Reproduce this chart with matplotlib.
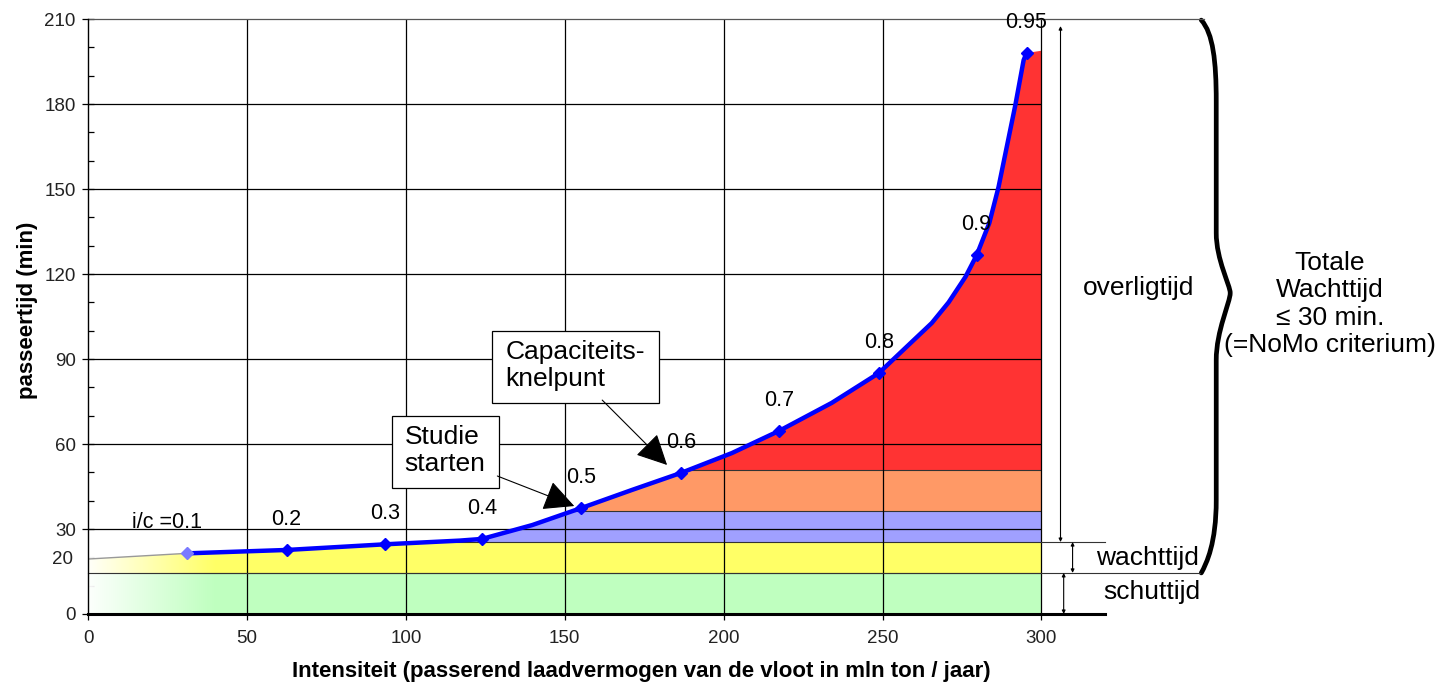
import numpy as np
import matplotlib
matplotlib.use("Agg")
import matplotlib.pyplot as plt
from matplotlib.patches import Polygon, Rectangle, PathPatch
from matplotlib.path import Path
from matplotlib.ticker import FixedLocator, FixedFormatter

plt.rcParams['font.family'] = ['Liberation Sans', 'DejaVu Sans']

# ---------------- data ----------------
curve_x = [0, 31, 62.5, 93.5, 116.9, 124, 139.8, 155.2, 171.2, 186.6, 202.6, 217.4,
           234, 248.8, 265.5, 270.8, 276.1, 279.6, 283.6, 286.5, 291.8, 294.4, 295.3]
curve_y = [19.4, 21.4, 22.6, 24.6, 25.9, 26.5, 31.4, 37.4, 43.8, 49.8, 56.8, 64.6,
           74.5, 85.0, 102.7, 110.0, 119.0, 126.6, 138.0, 150.7, 179.7, 195.5, 198.0]
fill_end_x = 300
fill_end_y = 198.8

ic_labels = ['i/c =0.1', '0.2', '0.3', '0.4', '0.5', '0.6', '0.7', '0.8', '0.9', '0.95']
ic_x = [31, 62.5, 93.5, 124, 155.2, 186.6, 217.4, 248.8, 279.6, 295.3]
ic_y = [21.4, 22.6, 24.6, 26.5, 37.4, 49.8, 64.6, 85.0, 126.6, 198.0]

band_edges = [0, 14.5, 25.4, 36.4, 50.8, 210]
band_colors = ['#bfffbf', '#ffff66', '#a0a0ff', '#ff9966', '#ff3333']

x_ticks = [0, 50, 100, 150, 200, 250, 300]
y_ticks = [0, 30, 60, 90, 120, 150, 180, 210]
y_minor = [10, 20, 40, 50, 70, 80, 100, 110, 130, 140, 160, 170, 190, 200]

# ---------------- figure ----------------
fig = plt.figure(figsize=(14.49, 6.87), dpi=100)
ax = fig.add_axes([88/1449, 1-614/687, (1105-88)/1449, (614-19)/687])
ax.set_xlim(0, 320)
ax.set_ylim(0, 210)

# clip polygon under curve
verts = [(0, 0)] + list(zip(curve_x, curve_y)) + [(fill_end_x, fill_end_y), (fill_end_x, 0)]
clip_poly = Polygon(verts, closed=True, transform=ax.transData, facecolor='none', edgecolor='none')
ax.add_patch(clip_poly)

for lo, hi, c in zip(band_edges[:-1], band_edges[1:], band_colors):
    fb = ax.fill_between([0, fill_end_x], lo, hi, color=c, lw=0, zorder=1)
    fb.set_clip_path(clip_poly)

# band edge lines (clipped)
for yv in band_edges[1:-1]:
    ln, = ax.plot([0, fill_end_x], [yv, yv], color='#333333', lw=0.8, zorder=1.5)
    ln.set_clip_path(clip_poly)

# left white fade
grad = np.zeros((2, 256, 4))
grad[..., :3] = 1.0
grad[..., 3] = np.linspace(0.97, 0.0, 256)[None, :]
ax.imshow(grad, extent=[0, 40, 0, 23.5], aspect='auto', zorder=2.5, interpolation='bilinear')

# grid lines
ax.hlines(y_ticks[1:-1], 0, 300, color='black', lw=0.9, zorder=2)
ax.vlines(x_ticks[1:], 0, 210, color='black', lw=0.9, zorder=2)
ax.plot([0, 351], [210, 210], color='#555555', lw=0.9, zorder=2, clip_on=False)
ax.plot([0, 350], [band_edges[1], band_edges[1]], color='#333333', lw=0.8, zorder=2.6, clip_on=False)
ax.plot([300, 320], [band_edges[2], band_edges[2]], color='#333333', lw=0.8, zorder=2, clip_on=False)

# curve
ax.plot(curve_x[:2], curve_y[:2], color='#999999', lw=1.0, zorder=3)
ax.plot(curve_x[1:], curve_y[1:], color='#0000ff', lw=3.2, zorder=3, solid_joinstyle='round')
ax.plot(ic_x[1:], ic_y[1:], ls='none', marker='D', ms=6.5, color='#0000ff', zorder=4)
ax.plot(ic_x[:1], ic_y[:1], ls='none', marker='D', ms=6.5, color='#7a7aff', zorder=4)

# i/c labels
for i, (lab, xv, yv) in enumerate(zip(ic_labels, ic_x, ic_y)):
    if i == 0:
        ax.annotate(lab, (xv, yv), xytext=(11, 22), textcoords='offset points',
                    ha='right', va='center', fontsize=15.5, zorder=6)
    else:
        ax.annotate(lab, (xv, yv), xytext=(0, 22), textcoords='offset points',
                    ha='center', va='center', fontsize=15.5, zorder=6)

# boxes with arrows
ax.add_patch(Rectangle((95.5, 44.5), 129.4-95.5, 69.9-44.5, facecolor='white',
                       edgecolor='black', lw=0.9, zorder=5))
ax.text(99.6, 57.6, 'Studie\nstarten', ha='left', va='center', fontsize=19,
        linespacing=1.15, zorder=6)
ax.add_patch(Rectangle((127.2, 74.5), 179.7-127.2, 99.9-74.5, facecolor='white',
                       edgecolor='black', lw=0.9, zorder=5))
ax.text(131.3, 87.6, 'Capaciteits-\nknelpunt', ha='left', va='center', fontsize=19,
        linespacing=1.15, zorder=6)
ax.annotate('', xy=(153, 38.1), xytext=(128.8, 48.7),
            arrowprops=dict(arrowstyle='-|>,head_length=0.6,head_width=0.3', lw=0.8,
                            color='black', mutation_scale=32, shrinkA=0, shrinkB=0), zorder=6)
ax.annotate('', xy=(182.2, 52.6), xytext=(161.8, 75.5),
            arrowprops=dict(arrowstyle='-|>,head_length=0.6,head_width=0.3', lw=0.8,
                            color='black', mutation_scale=32, shrinkA=0, shrinkB=0), zorder=6)

# dimension arrows
def dim(x, y0, y1):
    ax.annotate('', xy=(x, y1), xytext=(x, y0), annotation_clip=False,
                arrowprops=dict(arrowstyle='<|-|>', lw=0.8, color='black',
                                mutation_scale=5, shrinkA=0, shrinkB=0))
dim(306, 207.5, band_edges[2])
dim(309.8, band_edges[2], band_edges[1])
dim(307, band_edges[1], 0)

ax.text(330.5, 115.1, 'overligtijd', ha='center', va='center', fontsize=19, clip_on=False)
ax.text(333.3, 19.6, 'wachttijd', ha='center', va='center', fontsize=19, clip_on=False)
ax.text(334.6, 7.6, 'schuttijd', ha='center', va='center', fontsize=19, clip_on=False)

# brace
bverts = [(350.3, 209.6),
          (354, 205), (355, 195), (355, 181),
          (355, 134.5),
          (355, 125), (359.4, 116), (359.4, 113.3),
          (359.4, 110), (355, 100), (355, 89.6),
          (355, 40.2),
          (355, 25), (352, 18), (350.3, 14.5)]
bcodes = [Path.MOVETO, Path.CURVE4, Path.CURVE4, Path.CURVE4, Path.LINETO,
          Path.CURVE4, Path.CURVE4, Path.CURVE4, Path.CURVE4, Path.CURVE4, Path.CURVE4,
          Path.LINETO, Path.CURVE4, Path.CURVE4, Path.CURVE4]
ax.add_patch(PathPatch(Path(bverts, bcodes), facecolor='none', edgecolor='black',
                       lw=3.4, clip_on=False, capstyle='round'))

ax.text(390.8, 109.4, 'Totale\nWachttijd\n≤ 30 min.\n(=NoMo criterium)', ha='center',
        va='center', fontsize=19, linespacing=1.17, clip_on=False, multialignment='center')

# axes styling
for s in ['top', 'right']:
    ax.spines[s].set_visible(False)
ax.spines['left'].set_linewidth(1.0)
ax.spines['bottom'].set_linewidth(2.2)
ax.spines['bottom'].set_zorder(7)
ax.spines['left'].set_zorder(7)

ax.set_xticks(x_ticks)
ax.set_xticklabels([str(v) for v in x_ticks])
ax.yaxis.set_major_locator(FixedLocator(y_ticks))
ax.set_yticklabels([str(v) for v in y_ticks])
ax.yaxis.set_minor_locator(FixedLocator(y_minor))
ax.yaxis.set_minor_formatter(FixedFormatter(['20' if v == 20 else '' for v in y_minor]))
ax.tick_params(axis='x', which='major', direction='out', length=4.5, width=0.9,
               labelsize=13.5, pad=7, labelcolor='#222222')
ax.tick_params(axis='y', which='major', direction='inout', length=8.5, width=0.9,
               labelsize=13.5, pad=4.5, labelcolor='#222222')
ax.tick_params(axis='y', which='minor', direction='in', length=4.3, width=0.9,
               labelsize=13.5, pad=11, labelcolor='#222222')

fig.text(641/1449, 1-672/687, 'Intensiteit (passerend laadvermogen van de vloot in mln ton / jaar)',
         ha='center', va='center', fontsize=16, fontweight='bold')
fig.text(28/1449, 1-310/687, 'passeertijd (min)', rotation=90, ha='center', va='center',
         fontsize=16, fontweight='bold')

fig.savefig('out.png', dpi=100)
